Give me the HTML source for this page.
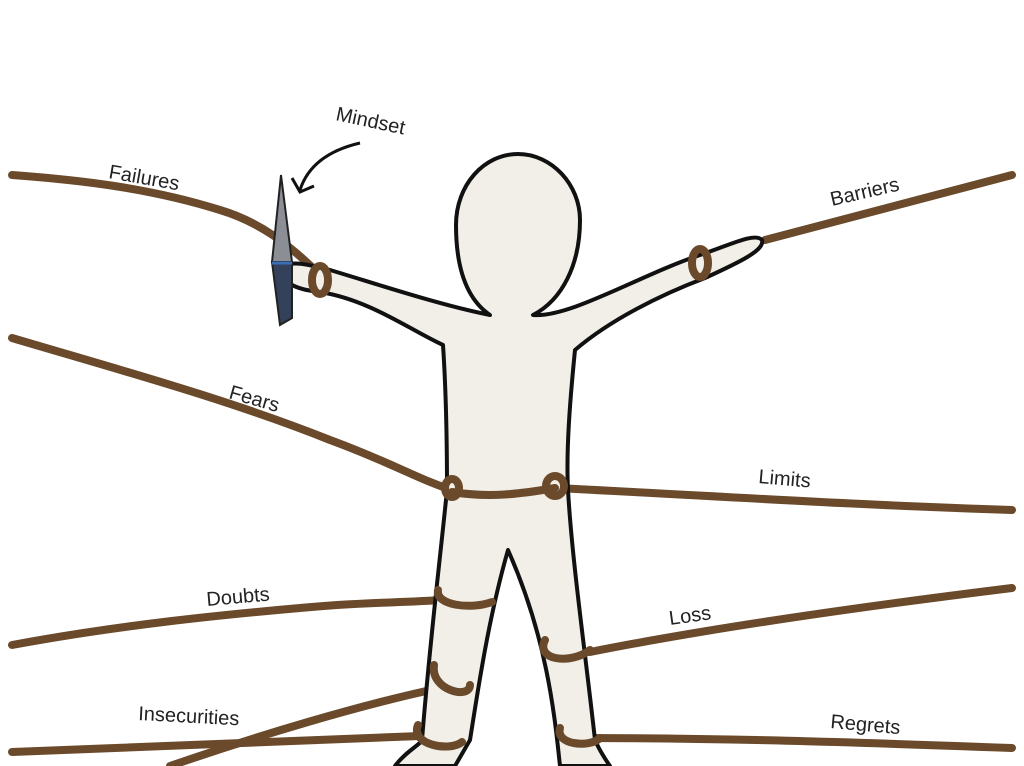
<!DOCTYPE html>
<html><head><meta charset="utf-8"><style>
html,body{margin:0;padding:0;background:#fff;width:1024px;height:766px;overflow:hidden}
svg{display:block}
text{font-family:"Liberation Sans",sans-serif;font-size:20px;fill:#222}
</style></head><body>
<svg width="1024" height="766" viewBox="0 0 1024 766">
<g fill="none" stroke="#6b4a2b" stroke-width="8" stroke-linecap="round">
<path d="M12,175 C80,180 150,188 220,210 C260,222 290,245 320,275"/>
<path d="M1012,175 L765,240"/>
<path d="M12,338 C120,370 230,400 330,440 C390,462 420,480 452,490"/>
<path d="M555,488 C700,495 850,505 1012,510"/>
<path d="M12,645 C120,625 220,615 300,608 C360,602 400,603 440,600"/>
<path d="M590,652 C700,630 850,608 1012,588"/>
<path d="M12,752 C120,748 250,742 420,736"/>
<path d="M170,766 C260,735 360,705 440,688"/>
<path d="M580,738 C720,738 850,742 1012,748"/>
</g>
<!-- figure -->
<path d="M490,315 C468,300 456,270 456,225 C456,185 484,154 518,154 C552,154 580,185 580,220 C580,265 562,300 533,315 C570,318 640,275 700,255 C730,245 755,232 762,240 C765,250 740,262 705,278 C660,295 610,320 575,350 C570,400 566,450 568,490 C572,560 585,650 595,740 C600,752 610,766 610,766 L560,766 C555,720 548,640 508,550 C488,620 478,690 470,740 L455,766 L395,766 C405,752 420,745 422,740 C430,640 440,560 447,490 C447,440 446,390 443,345 C410,330 370,300 320,292 C300,290 285,285 280,272 C285,260 300,262 330,270 C380,285 440,305 490,315 Z" fill="#f1efe8" stroke="#111" stroke-width="4" stroke-linejoin="round"/>
<!-- knots -->
<g fill="none" stroke="#6b4a2b" stroke-width="8" stroke-linecap="round">
<path d="M452,492 C490,498 520,494 555,488"/>
<ellipse cx="320" cy="280" rx="8" ry="14"/>
<ellipse cx="700" cy="263" rx="8" ry="14"/>
<ellipse cx="452" cy="488" rx="7" ry="9"/>
<ellipse cx="555" cy="486" rx="9" ry="10"/>
<path d="M438,590 C435,605 470,610 492,602"/>
<path d="M434,665 C430,690 470,700 470,685"/>
<path d="M418,725 C410,745 450,752 462,742"/>
<path d="M545,640 C535,660 570,665 590,650"/>
<path d="M560,728 C555,745 590,748 600,738"/>
</g>
<!-- knife -->
<polygon points="281,175 272,262 292,262" fill="#8b8e94" stroke="#222" stroke-width="2"/>
<polygon points="272,262 292,262 292,318 280,325" fill="#33425a" stroke="#222" stroke-width="2"/>
<line x1="272" y1="263" x2="292" y2="263" stroke="#3b6fb5" stroke-width="3"/>
<!-- arrow -->
<path d="M360,143 C330,150 308,165 300,190" fill="none" stroke="#111" stroke-width="3"/>
<path d="M292,178 L300,192 L314,186" fill="none" stroke="#111" stroke-width="3"/>
<text transform="translate(335,120) rotate(12)">Mindset</text>
<text transform="translate(108,178) rotate(10)">Failures</text>
<text transform="translate(832,206) rotate(-13)">Barriers</text>
<text transform="translate(228,398) rotate(16)">Fears</text>
<text transform="translate(758,483) rotate(5)">Limits</text>
<text transform="translate(207,606) rotate(-5)">Doubts</text>
<text transform="translate(670,625) rotate(-8)">Loss</text>
<text transform="translate(138,720) rotate(3)">Insecurities</text>
<text transform="translate(830,728) rotate(5)">Regrets</text>
</svg>
</body></html>
